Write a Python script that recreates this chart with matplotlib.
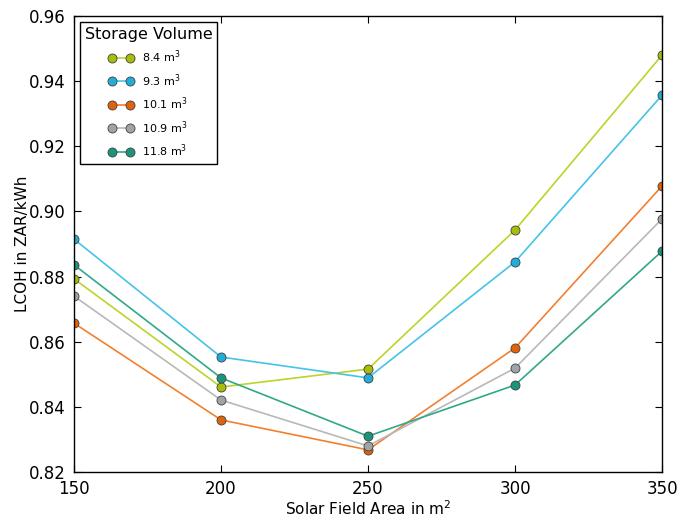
import numpy as np
import matplotlib.pyplot as plt

area = [150, 200, 250, 300, 350]
lcoh_84 = [0.8793, 0.8461, 0.8516, 0.8943, 0.9480]
lcoh_93 = [0.8915, 0.8553, 0.8489, 0.8845, 0.9357]
lcoh_101 = [0.8657, 0.8360, 0.8268, 0.8581, 0.9078]
lcoh_109 = [0.8740, 0.8421, 0.8280, 0.8519, 0.8977]
lcoh_118 = [0.8836, 0.8489, 0.8310, 0.8467, 0.8878]

labels = ['8.4 m$^3$', '9.3 m$^3$', '10.1 m$^3$', '10.9 m$^3$', '11.8 m$^3$']
series = [lcoh_84, lcoh_93, lcoh_101, lcoh_109, lcoh_118]
line_colors = ['#bcd42a', '#45c3e8', '#f28030', '#b8b8b8', '#30a88a']
marker_colors = ['#a8bd0a', '#22acd8', '#e0620a', '#a0a4a4', '#1a957a']

fig = plt.figure(figsize=(6.93, 5.21), dpi=100)
ax = fig.add_axes([0.1068, 0.094, 0.8485, 0.8753])

for y, lab, lc, mc in zip(series, labels, line_colors, marker_colors):
    ax.plot(area, y, '-', color=lc, lw=1.2, marker='o', markersize=6.5,
            markerfacecolor=mc, markeredgecolor='#404040', markeredgewidth=0.6,
            label=lab)

ax.set_xlim(150, 350)
ax.set_ylim(0.82, 0.96)
ax.set_xticks(np.arange(150, 351, 50))
ax.set_yticks(np.arange(0.82, 0.9601, 0.02))
ax.set_yticklabels(['%.2f' % v for v in np.arange(0.82, 0.9601, 0.02)])
ax.tick_params(direction='in', top=True, right=True, labelsize=12, length=5, pad=6)
for s in ax.spines.values():
    s.set_linewidth(1.0)

ax.set_xlabel('Solar Field Area in m$^2$', fontsize=11, labelpad=1)
ax.set_ylabel('LCOH in ZAR/kWh', fontsize=11, labelpad=-1)

leg = ax.legend(title='Storage Volume', loc='upper left', numpoints=2,
                fontsize=8, title_fontsize=11.5, fancybox=False,
                edgecolor='black', framealpha=1, borderpad=0.45,
                handlelength=2.2, labelspacing=0.62, bbox_to_anchor=(0.0, 1.0))
leg.get_frame().set_linewidth(1.0)

plt.savefig('out.png', dpi=100)
